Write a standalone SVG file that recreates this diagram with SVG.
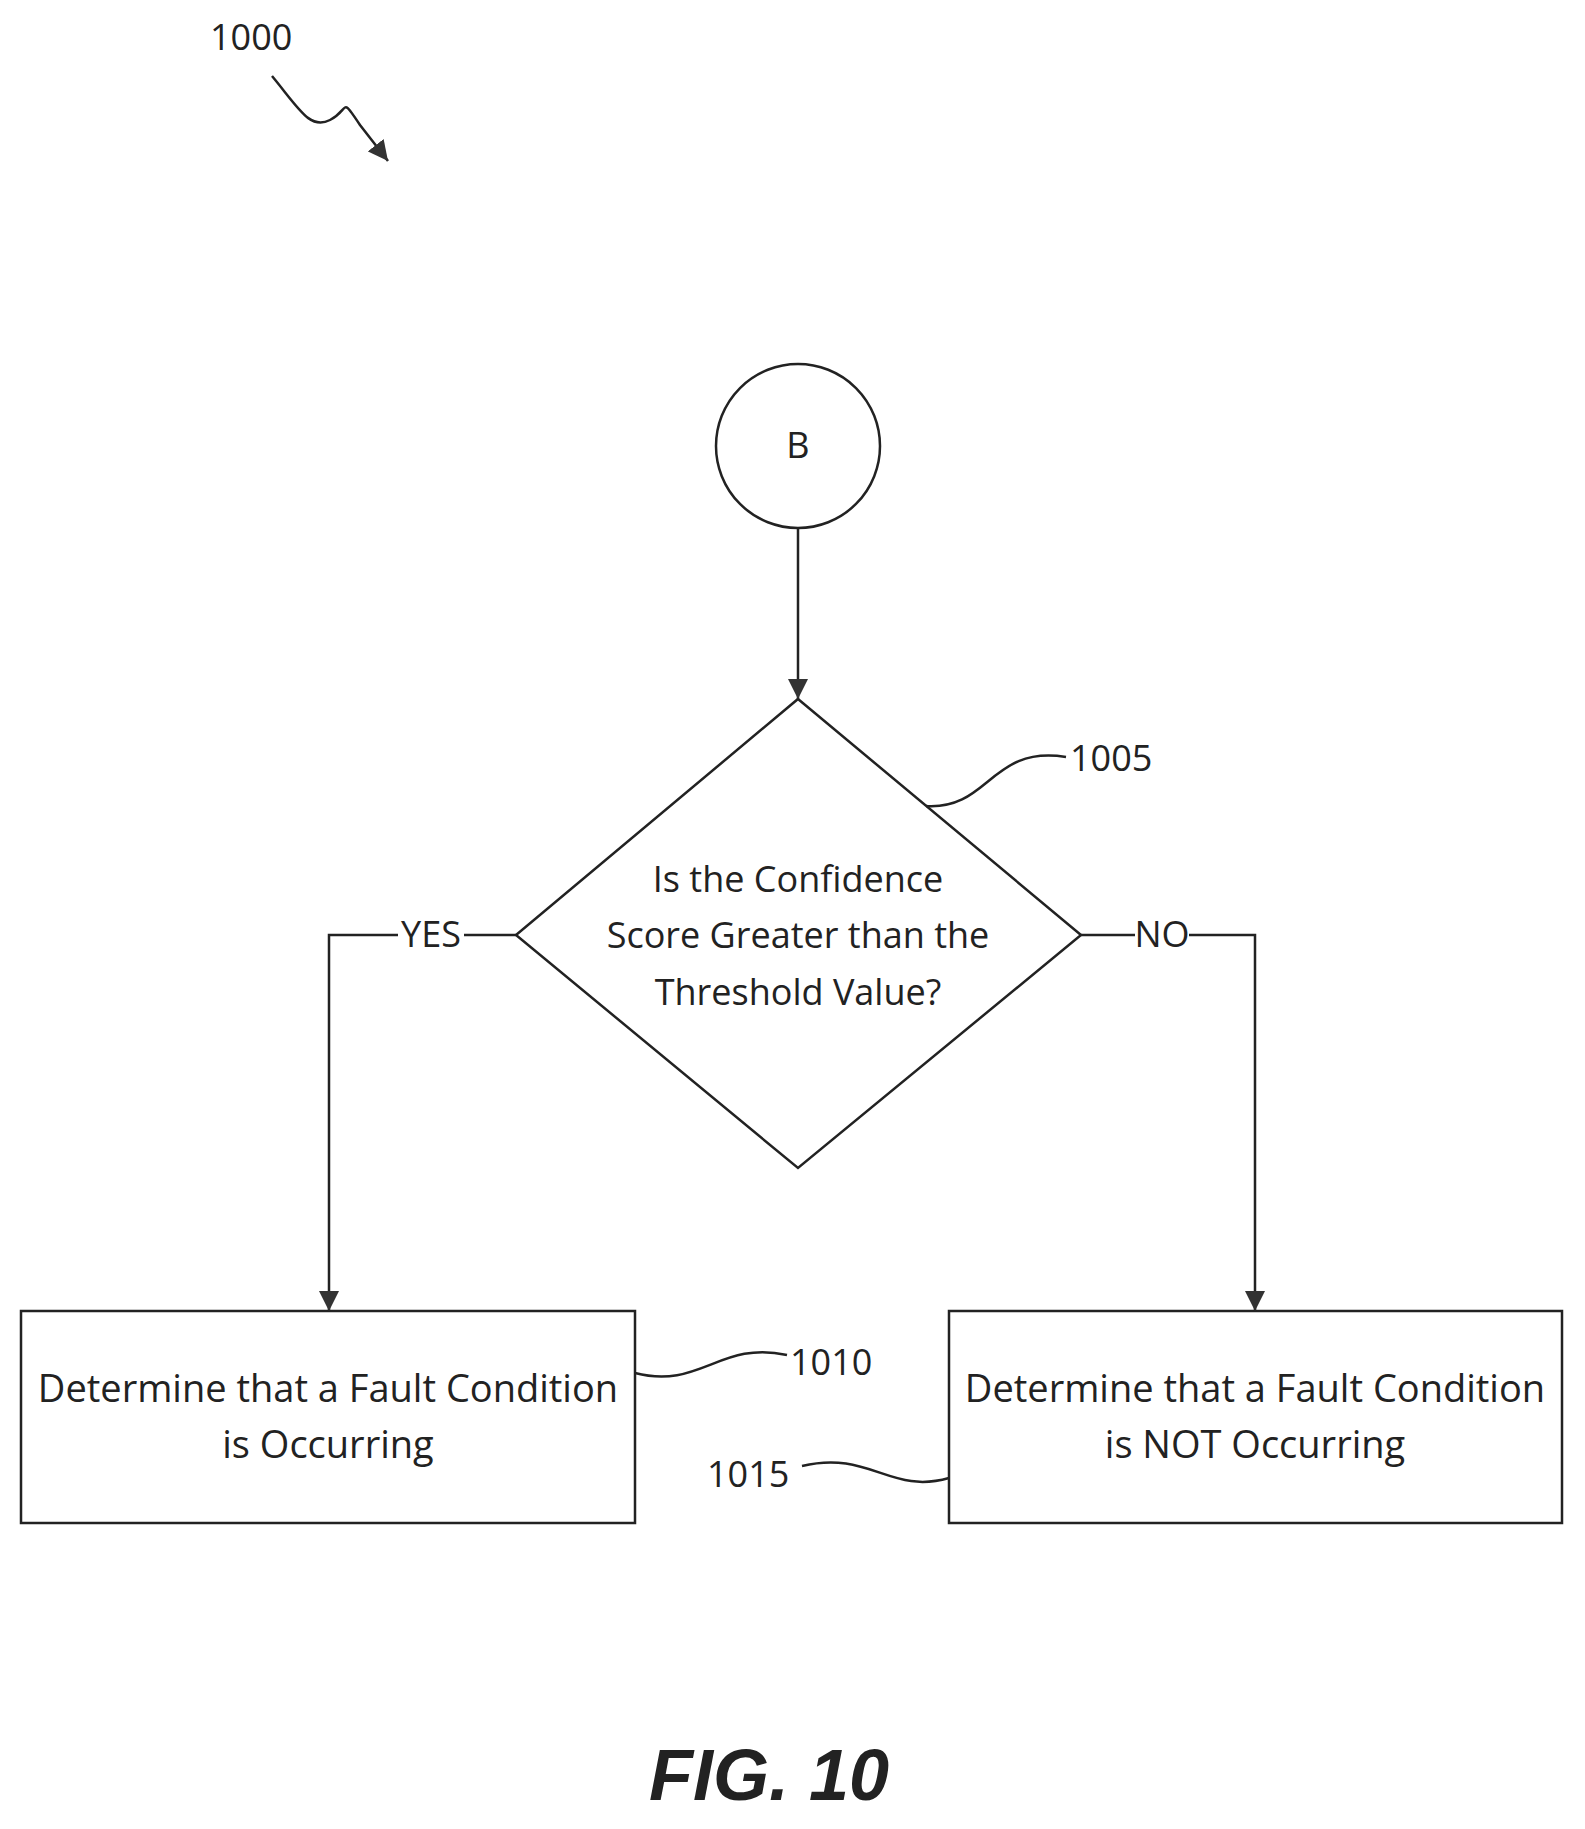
<svg xmlns="http://www.w3.org/2000/svg" width="1585" height="1829" viewBox="0 0 1585 1829">
<style>
.s{fill:none;stroke:#222;stroke-width:2.5}
.t{font-family:"Open Sans","Liberation Sans",sans-serif;font-size:36px;fill:#222;text-anchor:middle}
.bt{font-size:38px}
.r{font-family:"Open Sans","Liberation Sans",sans-serif;font-size:36px;fill:#222}
</style>
<defs><marker id="b" viewBox="0 0 10 10" refX="10" refY="5" markerWidth="20" markerHeight="20" markerUnits="userSpaceOnUse" orient="auto"><path d="M0,0L10,5L0,10z" fill="#333"/></marker></defs>
<rect width="1585" height="1829" fill="#fff"/>
<text class="r" x="210" y="50">1000</text>
<path class="s" d="M272,76 C300,110 310,130 330,120 C350,110 340,95 360,125 L388,161" marker-end="url(#b)"/>
<g id="B"><circle class="s" cx="798" cy="446" r="82"/><text class="t" x="798" y="458">B</text></g>
<g id="n1005"><path class="s" d="M798,699 L1081,935 L798,1168 L516,935 Z"/>
<text class="t" x="798" y="892">Is the Confidence</text><text class="t" x="798" y="948">Score Greater than the</text><text class="t" x="798" y="1005">Threshold Value?</text></g>
<g id="n1010"><rect class="s" x="21" y="1311" width="614" height="212"/><text class="t bt" x="328" y="1402">Determine that a Fault Condition</text><text class="t bt" x="328" y="1458">is Occurring</text></g>
<g id="n1015"><rect class="s" x="949" y="1311" width="613" height="212"/><text class="t bt" x="1255" y="1402">Determine that a Fault Condition</text><text class="t bt" x="1255" y="1458">is NOT Occurring</text></g>
<g id="connectors">
<path class="s" d="M798,528 L798,699" marker-end="url(#b)"/>
<path class="s" d="M516,935 L329,935 L329,1311" marker-end="url(#b)"/>
<path class="s" d="M1081,935 L1255,935 L1255,1311" marker-end="url(#b)"/>
<rect x="398" y="915" width="66" height="40" fill="#fff"/><text class="t" x="431" y="947">YES</text>
<rect x="1135" y="915" width="54" height="40" fill="#fff"/><text class="t" x="1162" y="947">NO</text>
<path class="s" d="M926,806 C990,810 990,745 1066,757"/>
<text class="r" x="1070" y="771">1005</text>
<path class="s" d="M635,1373 C700,1390 720,1340 787,1355"/>
<text class="r" x="790" y="1375">1010</text>
<path class="s" d="M949,1478 C890,1495 870,1450 802,1466"/>
<text class="r" x="707" y="1487">1015</text>
</g>
<text x="769" y="1800" font-family="Liberation Sans,sans-serif" font-size="72" font-weight="bold" font-style="italic" text-anchor="middle" fill="#222">FIG. 10</text>
</svg>
